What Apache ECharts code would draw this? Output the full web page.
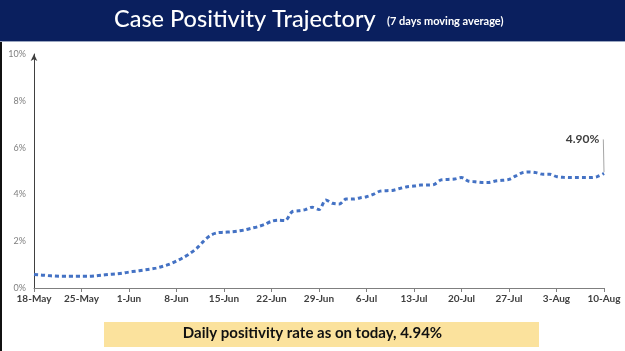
<!DOCTYPE html>
<html>
<head>
<meta charset="utf-8">
<script src="https://cdn.jsdelivr.net/npm/echarts@6/dist/echarts.min.js"></script>
<style>
  html, body { margin: 0; padding: 0; background: #fff; }
  #chart { width: 625px; height: 351px; }
</style>
</head>
<body>
<div id="chart"></div>
<script>
// 7-day moving average of case positivity (%), one value per day, 18-May .. 10-Aug
var positivity = [
  0.58, 0.56, 0.53, 0.51, 0.50, 0.50, 0.50, 0.50, 0.50, 0.52,
  0.55, 0.58, 0.60, 0.63, 0.68, 0.72, 0.76, 0.80, 0.85, 0.93,
  1.02, 1.15, 1.30, 1.48, 1.70, 2.00, 2.25, 2.36, 2.38, 2.40,
  2.43, 2.48, 2.55, 2.62, 2.72, 2.85, 2.90, 2.88, 3.25, 3.30,
  3.35, 3.45, 3.35, 3.76, 3.62, 3.59, 3.80, 3.80, 3.85, 3.90,
  4.00, 4.14, 4.16, 4.18, 4.26, 4.33, 4.36, 4.40, 4.40, 4.43,
  4.62, 4.64, 4.66, 4.72, 4.57, 4.54, 4.51, 4.51, 4.57, 4.60,
  4.64, 4.79, 4.93, 4.96, 4.93, 4.86, 4.86, 4.76, 4.73, 4.72,
  4.72, 4.72, 4.72, 4.76, 4.90
];
// one tick every 7 days
var weekLabels = ['18-May', '25-May', '1-Jun', '8-Jun', '15-Jun', '22-Jun', '29-Jun',
                  '6-Jul', '13-Jul', '20-Jul', '27-Jul', '3-Aug', '10-Aug'];
var yTicks = [0, 2, 4, 6, 8, 10];
var lastLabel = '4.90%';
var dailyRate = 'Daily positivity rate as on today, 4.94%';

var points = [];
for (var i = 0; i < positivity.length; i++) {
  points.push([i, positivity[i]]);
}
var lastX = positivity.length - 1;
var lastY = positivity[lastX];
var calloutY = 6.35;

var myChart = echarts.init(document.getElementById('chart'));

var option = {
  backgroundColor: '#fff',
  animation: false,
  grid: { left: 34, right: 21, top: 54, bottom: 63 },
  xAxis: {
    type: 'value',
    min: 0,
    max: lastX,
    interval: 7,
    axisLine: { show: true, lineStyle: { color: '#7f7f7f', width: 1 } },
    axisTick: { show: true, length: 4, lineStyle: { color: '#7f7f7f' } },
    splitLine: { show: false },
    axisLabel: {
      color: '#404040',
      fontFamily: 'Lato',
      fontWeight: 'bold',
      fontSize: 10,
      margin: 6,
      formatter: function (v) { return weekLabels[Math.round(v / 7)]; }
    }
  },
  yAxis: {
    type: 'value',
    min: yTicks[0],
    max: yTicks[yTicks.length - 1],
    interval: 2,
    axisLine: { show: true, symbol: ['none', 'arrow'], symbolSize: [5, 7],
                lineStyle: { color: '#404040', width: 1 } },
    axisTick: { show: false },
    splitLine: { show: false },
    axisLabel: {
      color: '#7f7f7f',
      fontFamily: 'Lato',
      fontSize: 9,
      margin: 8,
      formatter: '{value}%'
    }
  },
  series: [{
    type: 'line',
    data: points,
    smooth: 0.3,
    symbol: 'none',
    lineStyle: { color: '#4472c4', width: 3, type: [4, 3] },
    markPoint: {
      symbol: 'circle',
      symbolSize: 2,
      itemStyle: { color: 'rgba(255,255,255,0)' },
      data: [{
        coord: [lastX - 0.1, calloutY],
        label: {
          show: true,
          formatter: lastLabel,
          color: '#404040',
          fontFamily: 'Lato',
          fontWeight: 'bold',
          fontSize: 12,
          position: 'left',
          distance: 3
        }
      }]
    },
    markLine: {
      silent: true,
      symbol: 'none',
      label: { show: false },
      lineStyle: { color: '#a6a6a6', width: 1, type: 'solid' },
      data: [[
        { coord: [lastX - 0.1, calloutY] },
        { coord: [lastX, lastY + 0.05] }
      ]]
    }
  }],
  graphic: [
    { type: 'rect', left: 0, top: 0, shape: { width: 625, height: 41 },
      style: { fill: '#0a1f5e' } },
    { type: 'rect', left: 0, top: 41, shape: { width: 625, height: 1 },
      style: { fill: '#9aa6c0' } },
    { type: 'rect', left: 0, top: 42, shape: { width: 2, height: 309 },
      style: { fill: '#111' } },
    { type: 'text', left: 114, top: 7,
      style: { text: 'Case Positivity Trajectory', fill: '#fff',
               font: '500 23.5px Lato' } },
    { type: 'text', left: 387, top: 16,
      style: { text: '(7 days moving average)', fill: '#fff',
               font: 'bold 11px Lato' } },
    { type: 'rect', left: 104, top: 322, shape: { width: 435, height: 25 },
      style: { fill: '#fbe29d' } },
    { type: 'text', left: 'center', top: 326,
      style: { text: dailyRate, fill: '#111', font: 'bold 15px Lato' } }
  ]
};

myChart.setOption(option);
</script>
</body>
</html>
